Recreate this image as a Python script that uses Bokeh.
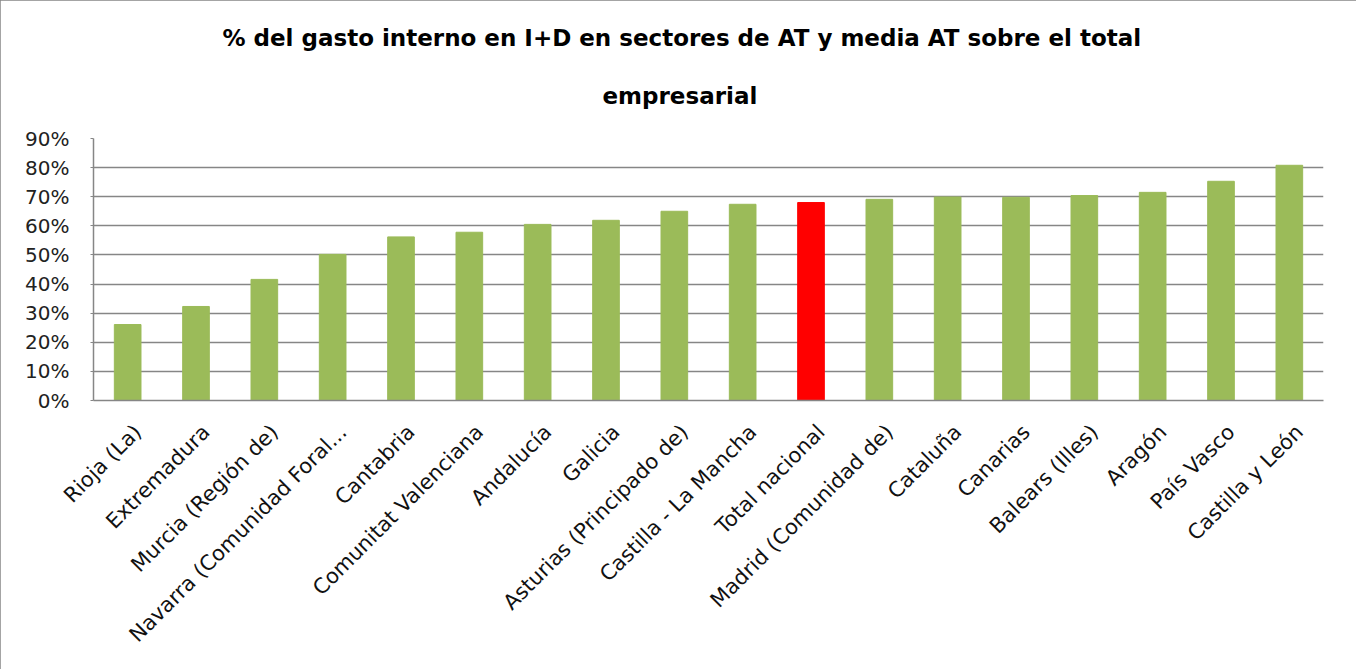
import math
from bokeh.plotting import figure
from bokeh.models import (ColumnDataSource, NumeralTickFormatter, FixedTicker, Range1d, Title)
from bokeh.embed import file_html
from bokeh.resources import INLINE

categories = ["Rioja (La)", "Extremadura", "Murcia (Región de)", "Navarra (Comunidad Foral...",
              "Cantabria", "Comunitat Valenciana", "Andalucía", "Galicia",
              "Asturias (Principado de)", "Castilla - La Mancha", "Total nacional",
              "Madrid (Comunidad de)", "Cataluña", "Canarias", "Balears (Illes)",
              "Aragón", "País Vasco", "Castilla y León"]
values = [0.261, 0.323, 0.416, 0.502, 0.562, 0.578, 0.605, 0.619, 0.650, 0.674,
          0.680, 0.691, 0.699, 0.698, 0.704, 0.715, 0.753, 0.808]
colors = ["#FF0000" if c == "Total nacional" else "#9BBB59" for c in categories]
y_ticks = [0, 0.1, 0.2, 0.3, 0.4, 0.5, 0.6, 0.7, 0.8, 0.9]
title_lines = ["% del gasto interno en I+D en sectores de AT y media AT sobre el total",
               "empresarial"]

n = len(categories)
xpos = [i + 0.5 for i in range(n)]  # category slot centres
src = ColumnDataSource(dict(x=xpos, cat=categories, val=values, color=colors))

p = figure(x_range=Range1d(0, n), y_range=Range1d(0, 0.9),
           width=1356, height=669, output_backend="svg", toolbar_location=None,
           min_border_left=93, min_border_right=33, min_border_top=138, min_border_bottom=269)

p.vbar(x="x", top="val", width=0.39, color="color", source=src)

def style_title(t, standoff, offset):
    t.align = "left"
    t.text_font = "DejaVu Sans"
    t.text_font_size = "23px"
    t.text_font_style = "bold"
    t.text_color = "#000000"
    t.standoff = standoff
    t.offset = offset

p.title.text = title_lines[0]
style_title(p.title, 0, 129)
t2 = Title(text=title_lines[1])
style_title(t2, 60, 509)
p.add_layout(t2, "above")

p.outline_line_color = None
p.xgrid.grid_line_color = None
p.ygrid.grid_line_color = "#868686"
p.ygrid.grid_line_width = 1.5
p.yaxis.ticker = FixedTicker(ticks=y_ticks)
p.yaxis.formatter = NumeralTickFormatter(format="0%")
p.yaxis.axis_line_color = "#868686"
p.yaxis.axis_line_width = 1.5
p.yaxis.major_tick_line_color = "#868686"
p.yaxis.major_tick_out = 3
p.yaxis.major_tick_in = 0
p.yaxis.minor_tick_line_color = None
p.yaxis.major_label_text_font = "DejaVu Sans"
p.yaxis.major_label_text_font_size = "20px"
p.yaxis.major_label_text_color = "#222222"
p.yaxis.major_label_standoff = 21

# category labels, anchored slightly right of each slot centre like the original
shift = 0.15
label_ticks = [x + shift for x in xpos]
p.xaxis.ticker = FixedTicker(ticks=label_ticks)
p.xaxis.major_label_overrides = {t: c for t, c in zip(label_ticks, categories)}
p.xaxis.axis_line_color = "#868686"
p.xaxis.axis_line_width = 1.5
p.xaxis.major_tick_line_color = None
p.xaxis.minor_tick_line_color = None
p.xaxis.major_label_orientation = math.pi / 4
p.xaxis.major_label_text_font = "DejaVu Sans"
p.xaxis.major_label_text_font_size = "21px"
p.xaxis.major_label_text_color = "#111111"
p.xaxis.major_label_standoff = 22

p.styles = {"outline": "3px solid #868686", "outline-offset": "-3px"}

open("out.html", "w").write(file_html(p, INLINE))
